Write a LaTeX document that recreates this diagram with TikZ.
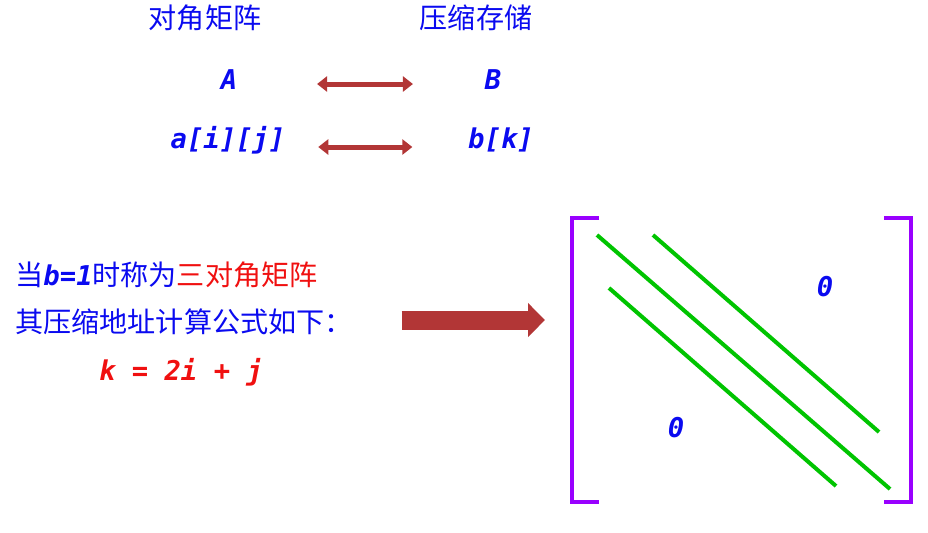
\documentclass[tikz,border=0pt]{standalone}
\usepackage{fontspec}
\setmainfont{Noto Sans CJK SC}
\newfontfamily\codefont{DejaVu Sans Mono}
\usetikzlibrary{arrows.meta}
\definecolor{txtblue}{HTML}{0A0AF0}
\definecolor{txtred}{HTML}{F01010}
\definecolor{arrred}{HTML}{B23636}
\definecolor{brkpurple}{HTML}{9900FF}
\definecolor{diaggreen}{HTML}{00C400}
\newcommand{\codetype}{\codefont\bfseries\itshape\fontsize{15.5}{18}\selectfont}

\begin{document}
\begin{tikzpicture}[
  x=0.02cm, y=-0.02cm,
  cjk/.style={font=\fontsize{16}{19}\selectfont, text=txtblue, inner sep=2pt},
  code/.style={font=\codetype, text=txtblue, inner sep=2pt},
  dbl/.style={{Triangle[width=0.3cm,length=0.2cm]}-{Triangle[width=0.3cm,length=0.2cm]}, line width=0.1cm, draw=arrred},
  big/.style={-{Triangle[width=0.66cm,length=0.34cm]}, line width=0.38cm, draw=arrred},
  brk/.style={line width=0.08cm, draw=brkpurple},
  band/.style={line width=0.08cm, draw=diaggreen},
]
\useasboundingbox (0,0) rectangle (928,532);
% headings
\node[cjk] (hdA) at (205,18) {对角矩阵};
\node[cjk] (hdB) at (476,18) {压缩存储};
\node[code] (A)   at (229,80)  {A};
\node[code] (B)   at (493,80)  {B};
\node[code] (aij) at (228,140) {a[i][j]};
\node[code] (bk)  at (501,140) {b[k]};
\draw[dbl] ([shift={(76,4)}]A.east) -- ([shift={(-68,4)}]B.west);
\draw[dbl] ([shift={(29,7)}]aij.east) -- ([shift={(-52,7)}]bk.west);
% text on the left
\node[cjk, anchor=west] (l1) at (11.5,275) {当{\codetype b=1}时称为\textcolor{txtred}{三对角矩阵}};
\node[cjk, anchor=west] (l2) at (11.5,322) {其压缩地址计算公式如下：};
\node[code, text=txtred] (fml) at (181,372) {k = 2i + j};
% matrix
\coordinate (mTL) at (572,218);
\coordinate (mBL) at (572,502);
\coordinate (mTR) at (911,218);
\coordinate (mBR) at (911,502);
\coordinate (matL) at (572,320);
\draw[big] ([shift={(45,-2)}]l2.east) -- ([shift={(-27,0)}]matL);
\draw[brk] ([shift={(27,0)}]mTL) -- (mTL) -- (mBL) -- ([shift={(27,0)}]mBL);
\draw[brk] ([shift={(-27,0)}]mTR) -- (mTR) -- (mBR) -- ([shift={(-27,0)}]mBR);
\draw[band] (597,235) -- (890,489);
\draw[band] (653,235) -- (879,432);
\draw[band] (609,288) -- (836,486);
\node[code] (zU) at (825,287) {0};
\node[code] (zL) at (676,428) {0};
\end{tikzpicture}
\end{document}
